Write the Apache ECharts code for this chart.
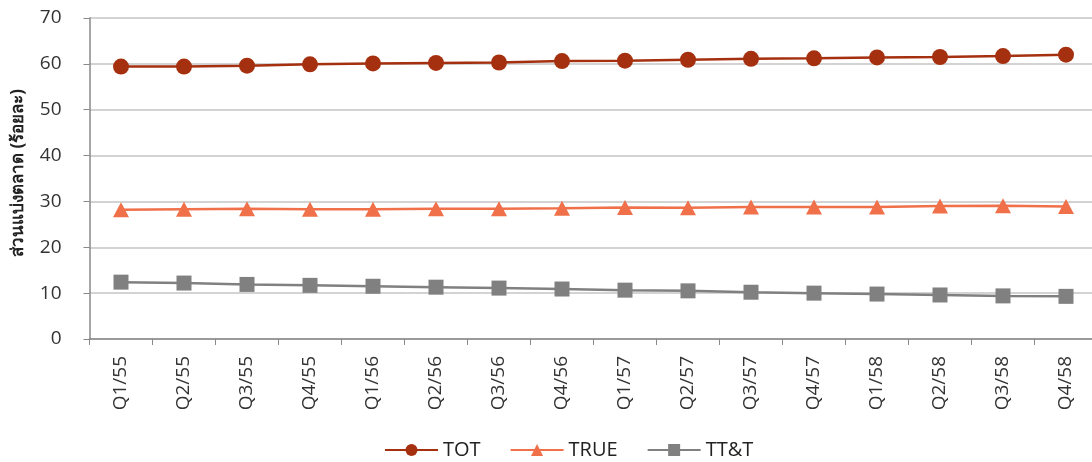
<!DOCTYPE html>
<html><head><meta charset="utf-8">
<script src="https://cdn.jsdelivr.net/npm/echarts@6/dist/echarts.min.js"></script>
<style>html,body{margin:0;padding:0;background:#fff}#c{width:1092px;height:462px}</style>
</head><body><div id="c"></div>
<script>
const categories = ['Q1/55','Q2/55','Q3/55','Q4/55','Q1/56','Q2/56','Q3/56','Q4/56','Q1/57','Q2/57','Q3/57','Q4/57','Q1/58','Q2/58','Q3/58','Q4/58'];
const tot  = [59.4,59.4,59.6,59.9,60.1,60.2,60.3,60.6,60.7,60.9,61.1,61.2,61.4,61.5,61.7,62.0];
const trueS = [28.2,28.3,28.4,28.3,28.3,28.4,28.4,28.5,28.7,28.6,28.8,28.8,28.8,29.0,29.05,28.9];
const ttt  = [12.4,12.2,11.9,11.7,11.5,11.3,11.1,10.9,10.65,10.5,10.2,10.0,9.8,9.6,9.4,9.3];
const yTicks = [0,10,20,30,40,50,60,70];
const yName = 'ส่วนแบ่งตลาด (ร้อยละ)';

const font = '"Open Sans", "Noto Sans", sans-serif';
const chart = echarts.init(document.getElementById('c'), null, {renderer:'canvas'});
chart.setOption({
  animation:false,
  backgroundColor:'#fff',
  grid:{left:89.5, width:1008, top:18, bottom:123, containLabel:false, outerBoundsMode:'none'},
  graphic:[{
    type:'text', x:18.5, y:173, rotation:Math.PI/2,
    style:{text:yName, textAlign:'center', textVerticalAlign:'middle',
      fontFamily:font, fontSize:17, fontWeight:'bold', fill:'#222'}
  }],
  legend:{
    top:435, left:379, itemWidth:53, itemHeight:15, itemGap:29,
    textStyle:{fontFamily:font, fontSize:20, color:'#222'},
    data:['TOT','TRUE','TT&T']
  },
  xAxis:{
    type:'category', data:categories, boundaryGap:true,
    axisLine:{lineStyle:{color:'#888', width:1.5}},
    axisTick:{show:true, alignWithLabel:false, length:6, lineStyle:{color:'#888'}},
    axisLabel:{rotate:90, fontFamily:font, fontSize:19, color:'#333', margin:17, interval:0}
  },
  yAxis:{
    type:'value', min:yTicks[0], max:yTicks[yTicks.length-1], interval:10,
    axisLine:{show:true, lineStyle:{color:'#888', width:1.5}},
    axisTick:{show:true, length:6, lineStyle:{color:'#888'}},
    axisLabel:{fontFamily:font, fontSize:19, color:'#333', margin:28},
    splitLine:{lineStyle:{color:'#c4c4c4', width:1.5}}
  },
  series:[
    {name:'TOT', type:'line', data:tot, symbol:'circle', symbolSize:16,
     itemStyle:{color:'#A5300F'}, lineStyle:{color:'#A5300F', width:2.5}},
    {name:'TRUE', type:'line', data:trueS, symbol:'triangle', symbolSize:[16,15],
     itemStyle:{color:'#F0704A'}, lineStyle:{color:'#F0704A', width:2.5}},
    {name:'TT&T', type:'line', data:ttt, symbol:'rect', symbolSize:15,
     itemStyle:{color:'#808080', borderRadius:2}, lineStyle:{color:'#808080', width:2.5}}
  ]
});
</script></body></html>
